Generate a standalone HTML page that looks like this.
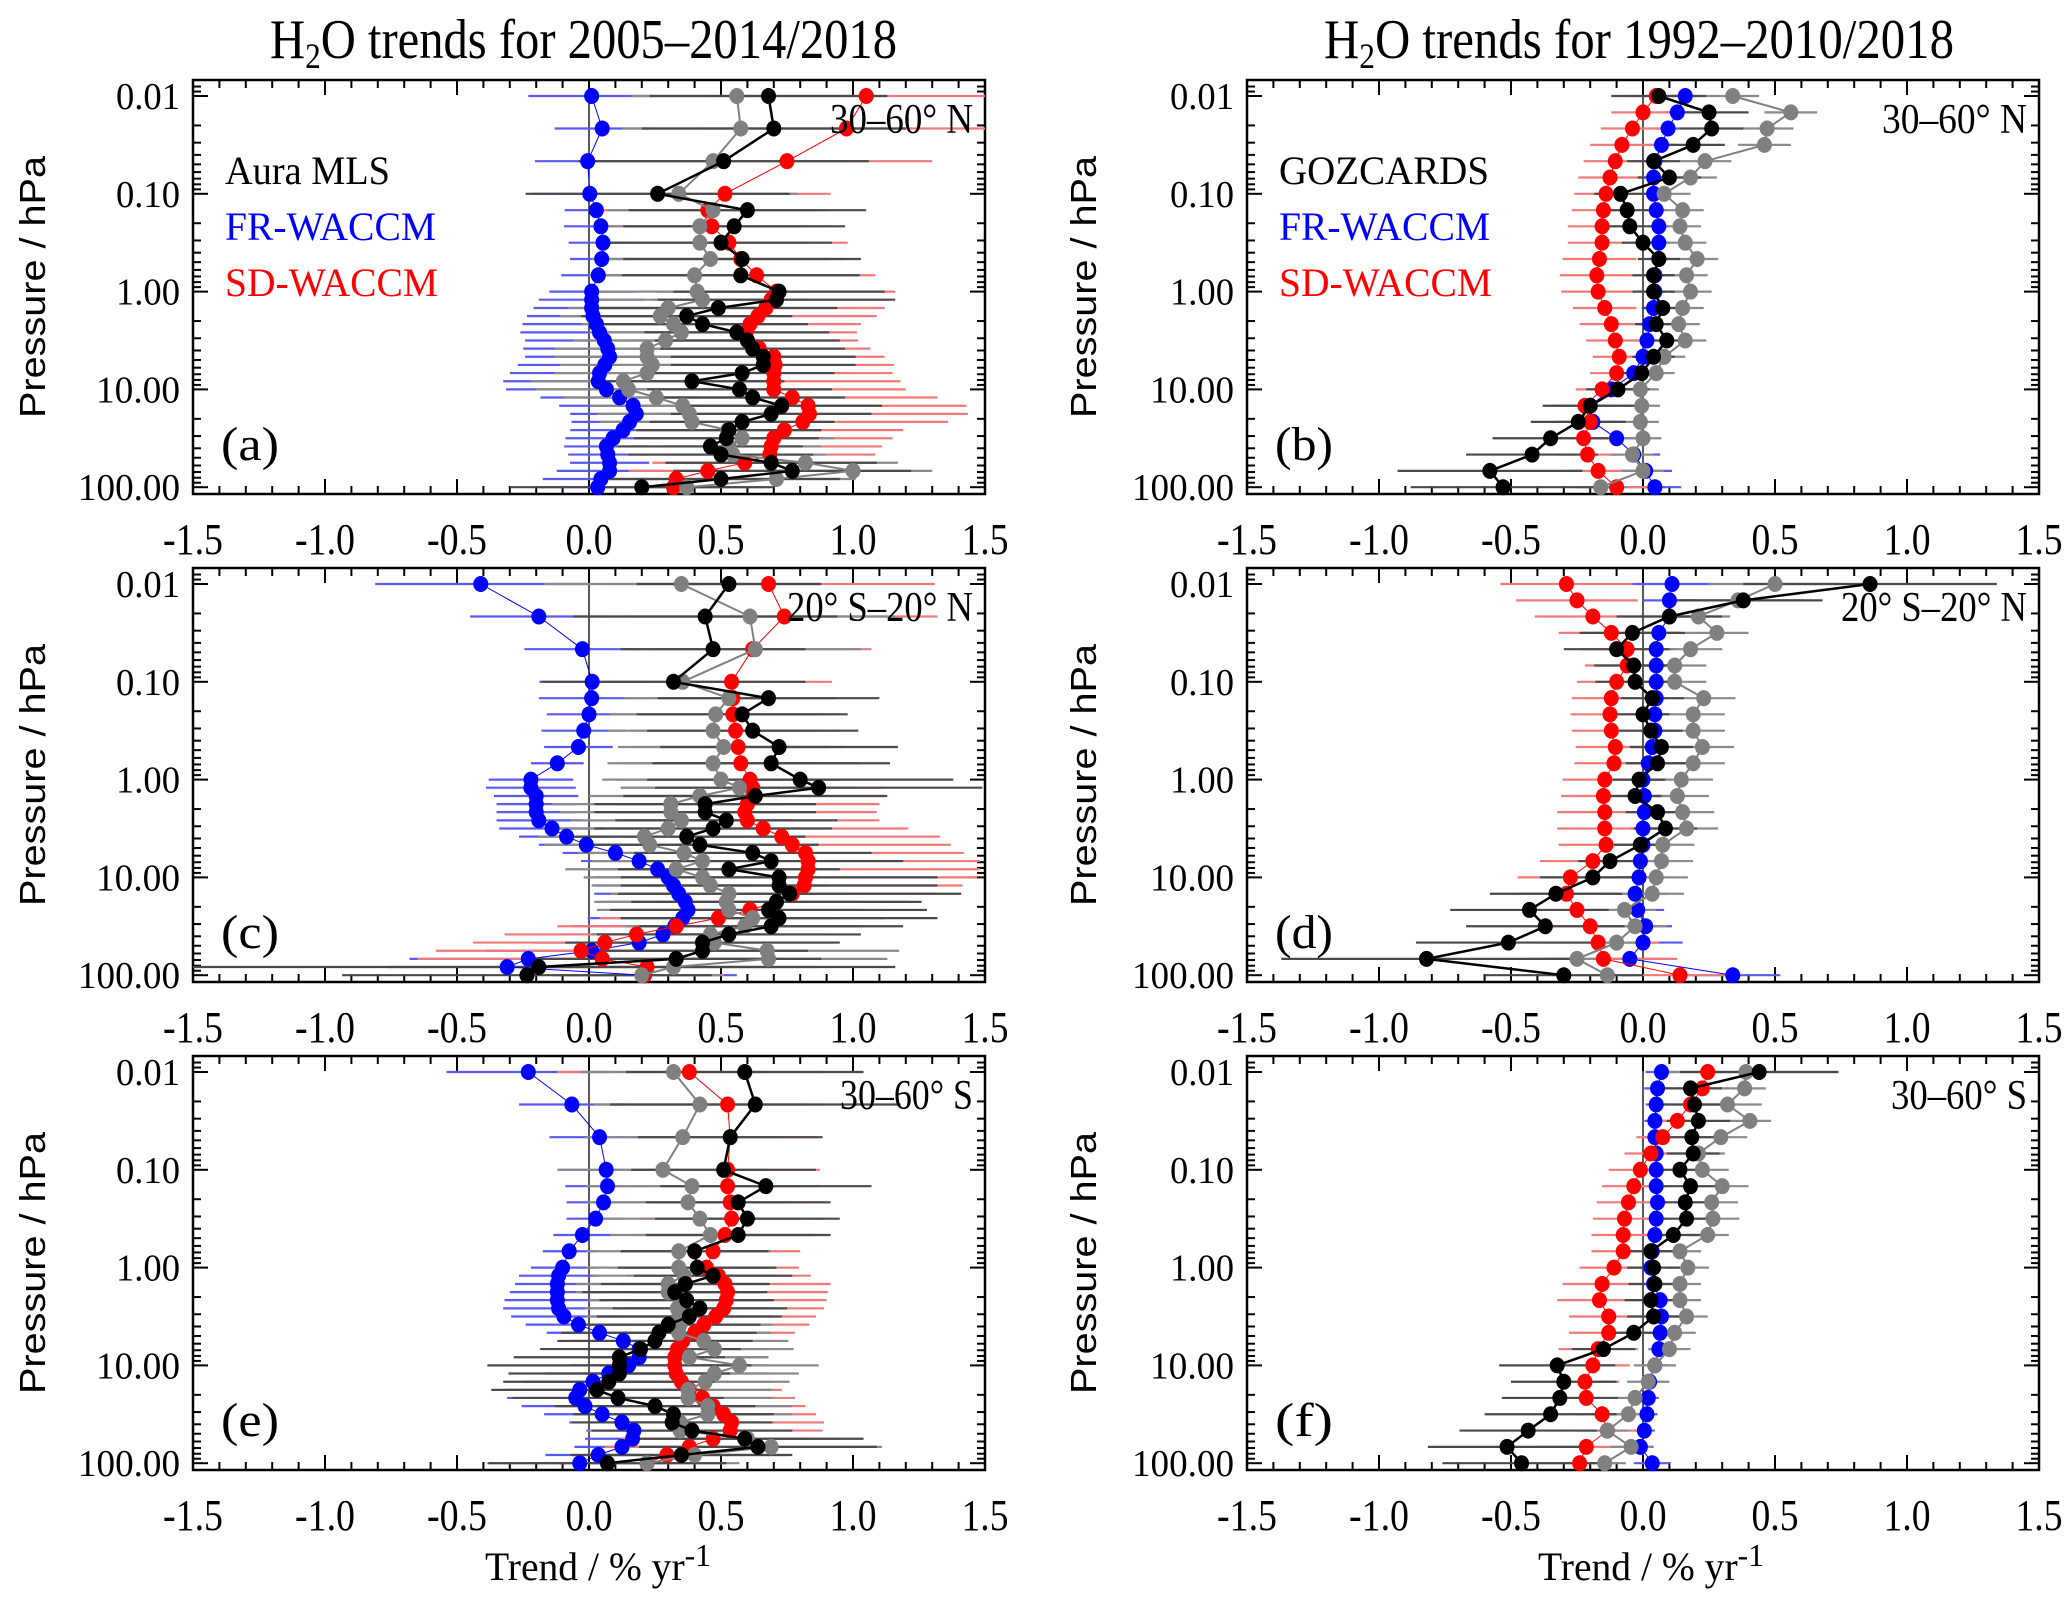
<!DOCTYPE html>
<html><head><meta charset="utf-8"><style>
html,body{margin:0;padding:0;background:#fff;}
svg{display:block;}
text{font-family:"Liberation Serif",serif;fill:#000;}
.sans{font-family:"Liberation Sans",sans-serif;}
</style></head><body>
<svg id="chart" xmlns="http://www.w3.org/2000/svg" width="2067" height="1602" viewBox="0 0 2067 1602">
<rect x="0" y="0" width="2067" height="1602" fill="#fff"/>
<text x="270" y="58" font-size="56" textLength="627" lengthAdjust="spacingAndGlyphs">H<tspan font-size="36" dy="10">2</tspan><tspan dy="-10">O trends for 2005–2014/2018</tspan></text>
<text x="1324" y="58" font-size="56" textLength="630" lengthAdjust="spacingAndGlyphs">H<tspan font-size="36" dy="10">2</tspan><tspan dy="-10">O trends for 1992–2010/2018</tspan></text>
<g id="panels"></g>
<text x="485" y="1580" font-size="40" textLength="226" lengthAdjust="spacingAndGlyphs">Trend / % yr<tspan font-size="32" dy="-14">-1</tspan></text>
<text x="1538" y="1580" font-size="40" textLength="226" lengthAdjust="spacingAndGlyphs">Trend / % yr<tspan font-size="32" dy="-14">-1</tspan></text>
</svg>
<script>
const mlsLevels=[0.01,0.0215,0.0464,0.1,0.147,0.215,0.316,0.464,0.681,1,1.21,1.47,1.78,2.15,2.61,3.16,3.83,4.64,5.62,6.81,8.25,10,12.1,14.7,17.8,21.5,26.1,31.6,38.3,46.4,56.2,68.1,82.5,100];
const gozLevels=[0.01,0.0147,0.0215,0.0316,0.0464,0.0681,0.1,0.147,0.215,0.316,0.464,0.681,1,1.47,2.15,3.16,4.64,6.81,10,14.7,21.5,31.6,46.4,68.1,100];
const xTicks=[-1.5,-1.0,-0.5,0.0,0.5,1.0,1.5];
const xTickLabels=["-1.5","-1.0","-0.5","0.0","0.5","1.0","1.5"];
const yTicks=[0.01,0.1,1,10,100];
const yTickLabels=["0.01","0.10","1.00","10.00","100.00"];

// Panel (a)
const aBlue=[0.01,0.05,-0.005,0.003,0.028,0.045,0.053,0.048,0.035,0.01,0.01,0.01,0.015,0.028,0.04,0.058,0.071,0.078,0.06,0.04,0.035,0.066,0.116,0.167,0.179,0.154,0.129,0.091,0.066,0.071,0.078,0.078,0.045,0.033];
const aRed=[1.05,0.975,0.75,0.515,0.45,0.465,0.53,0.575,0.635,0.71,0.69,0.67,0.64,0.61,0.595,0.60,0.645,0.70,0.705,0.70,0.70,0.70,0.77,0.83,0.835,0.81,0.74,0.70,0.69,0.685,0.59,0.45,0.33,0.32];
const aBlack=[0.68,0.70,0.51,0.26,0.60,0.55,0.50,0.58,0.575,0.72,0.71,0.49,0.37,0.43,0.56,0.60,0.62,0.66,0.66,0.58,0.39,0.57,0.62,0.73,0.69,0.58,0.53,0.52,0.46,0.50,0.69,0.77,0.50,0.20];
const aGray=[0.56,0.575,0.47,0.34,0.47,0.42,0.42,0.46,0.40,0.41,0.43,0.30,0.27,0.32,0.35,0.29,0.22,0.22,0.24,0.22,0.13,0.15,0.255,0.355,0.38,0.39,0.525,0.58,0.53,0.545,0.82,1.0,0.71,0.37];
const aBlueErr=[0.24,0.18,0.2,0.22,0.12,0.14,0.13,0.12,0.14,0.16,0.2,0.22,0.25,0.28,0.3,0.3,0.32,0.32,0.33,0.34,0.36,0.38,0.3,0.28,0.25,0.22,0.2,0.18,0.16,0.15,0.15,0.2,0.22,0.22];
const aBlackErr=[0.45,0.5,0.55,0.5,0.45,0.42,0.42,0.45,0.45,0.4,0.45,0.45,0.4,0.4,0.35,0.35,0.35,0.35,0.35,0.35,0.35,0.35,0.35,0.38,0.38,0.35,0.35,0.35,0.35,0.35,0.4,0.45,0.45,0.5];
const aRedErr=[0.6,0.55,0.55,0.4,0.45,0.45,0.45,0.4,0.45,0.45,0.45,0.45,0.45,0.42,0.42,0.42,0.42,0.42,0.45,0.45,0.48,0.5,0.55,0.6,0.6,0.55,0.45,0.45,0.42,0.4,0.35,0.3,0.3,0.3];
const aGrayErr=[0.4,0.45,0.5,0.45,0.4,0.4,0.4,0.45,0.4,0.4,0.4,0.38,0.38,0.35,0.35,0.35,0.35,0.35,0.35,0.35,0.35,0.35,0.35,0.35,0.35,0.35,0.35,0.35,0.35,0.35,0.35,0.3,0.3,0.3];

// Panel (c)
const cBlue=[-0.41,-0.19,-0.025,0.012,0.01,0,-0.02,-0.04,-0.12,-0.22,-0.22,-0.2,-0.2,-0.2,-0.19,-0.14,-0.085,-0.01,0.10,0.19,0.26,0.30,0.32,0.34,0.365,0.375,0.355,0.325,0.28,0.19,0.01,-0.23,-0.31,0.21];
const cRed=[0.68,0.74,0.62,0.54,0.545,0.545,0.555,0.565,0.575,0.61,0.62,0.62,0.60,0.59,0.60,0.66,0.73,0.77,0.82,0.83,0.83,0.82,0.815,0.77,0.71,0.61,0.49,0.33,0.18,0.06,-0.03,0.05,0.22,0.21];
const cBlack=[0.53,0.44,0.47,0.32,0.68,0.58,0.62,0.72,0.69,0.80,0.87,0.63,0.44,0.44,0.52,0.47,0.37,0.42,0.62,0.69,0.53,0.72,0.72,0.76,0.71,0.68,0.72,0.69,0.53,0.43,0.43,0.33,-0.19,-0.235];
const cGray=[0.35,0.61,0.63,0.355,0.53,0.48,0.47,0.51,0.47,0.50,0.57,0.42,0.31,0.31,0.35,0.30,0.21,0.23,0.36,0.43,0.33,0.43,0.46,0.53,0.52,0.53,0.62,0.59,0.46,0.475,0.675,0.68,0.32,0.20];
const cBlueErr=[0.4,0.26,0.22,0.2,0.2,0.16,0.16,0.13,0.1,0.16,0.17,0.16,0.15,0.15,0.16,0.2,0.18,0.18,0.2,0.22,0.25,0.28,0.3,0.32,0.32,0.34,0.36,0.38,0.38,0.4,0.4,0.45,0.45,0.35];
const cBlackErr=[0.35,0.5,0.35,0.5,0.42,0.4,0.4,0.45,0.45,0.58,0.62,0.5,0.42,0.42,0.42,0.45,0.45,0.45,0.45,0.5,0.42,0.6,0.6,0.65,0.55,0.6,0.6,0.5,0.5,0.52,0.4,0.55,1.35,0.7];
const cRedErr=[0.63,0.58,0.45,0.38,0.4,0.4,0.4,0.4,0.45,0.5,0.5,0.5,0.5,0.5,0.5,0.55,0.6,0.6,0.6,0.65,0.65,0.65,0.6,0.55,0.5,0.5,0.45,0.45,0.5,0.5,0.55,0.7,0.5,0.3];
const cGrayErr=[0.52,0.55,0.4,0.3,0.4,0.4,0.4,0.4,0.4,0.45,0.45,0.42,0.45,0.42,0.42,0.42,0.4,0.4,0.4,0.42,0.42,0.45,0.45,0.45,0.5,0.5,0.5,0.45,0.45,0.45,0.5,0.45,0.55,0.3];

// Panel (e)
const eBlue=[-0.23,-0.065,0.04,0.065,0.07,0.055,0.025,-0.025,-0.075,-0.10,-0.115,-0.12,-0.12,-0.12,-0.115,-0.095,-0.04,0.04,0.13,0.19,0.19,0.15,0.075,0.015,-0.035,-0.05,-0.015,0.05,0.125,0.17,0.165,0.125,0.035,-0.035];
const eRed=[0.38,0.525,0.535,0.525,0.525,0.535,0.54,0.515,0.47,0.445,0.49,0.515,0.525,0.52,0.51,0.48,0.435,0.40,0.355,0.335,0.325,0.325,0.33,0.35,0.38,0.43,0.47,0.51,0.54,0.535,0.47,0.38,0.295,0.22];
const eBlack=[0.59,0.63,0.535,0.51,0.67,0.565,0.60,0.565,0.40,0.41,0.47,0.365,0.325,0.37,0.42,0.38,0.30,0.265,0.25,0.195,0.115,0.115,0.115,0.075,0.03,0.11,0.25,0.32,0.315,0.39,0.59,0.64,0.35,0.07];
const eGray=[0.32,0.42,0.355,0.28,0.39,0.375,0.42,0.46,0.34,0.34,0.36,0.30,0.30,0.35,0.335,0.34,0.345,0.34,0.435,0.475,0.38,0.57,0.475,0.44,0.375,0.375,0.45,0.45,0.345,0.345,0.60,0.69,0.40,0.22];
const eBlueErr=[0.31,0.2,0.19,0.18,0.16,0.14,0.11,0.11,0.1,0.12,0.15,0.16,0.18,0.2,0.21,0.2,0.2,0.2,0.2,0.2,0.2,0.22,0.24,0.26,0.28,0.26,0.24,0.22,0.2,0.18,0.18,0.18,0.2,0.35];
const eBlackErr=[0.45,0.55,0.35,0.35,0.4,0.35,0.35,0.35,0.28,0.3,0.3,0.32,0.35,0.33,0.33,0.35,0.35,0.37,0.37,0.38,0.4,0.5,0.42,0.4,0.4,0.4,0.38,0.38,0.38,0.38,0.45,0.45,0.42,0.45];
const eRedErr=[0.5,0.37,0.33,0.35,0.35,0.35,0.35,0.35,0.33,0.35,0.35,0.4,0.38,0.38,0.38,0.38,0.4,0.38,0.38,0.35,0.35,0.35,0.35,0.35,0.35,0.35,0.35,0.35,0.35,0.35,0.35,0.32,0.3,0.3];
const eGrayErr=[0.35,0.4,0.37,0.4,0.4,0.38,0.38,0.38,0.35,0.35,0.35,0.35,0.35,0.35,0.35,0.35,0.35,0.35,0.32,0.3,0.3,0.3,0.32,0.32,0.32,0.32,0.32,0.32,0.32,0.35,0.35,0.42,0.35,0.35];

// Panel (b)
const bBlack=[0.06,0.25,0.26,0.19,0.04,0.10,-0.085,-0.06,-0.05,0,0.06,0.04,0.04,0.075,0.05,0.09,0.04,-0.005,-0.095,-0.2,-0.245,-0.35,-0.42,-0.58,-0.53];
const bBlue=[0.16,0.13,0.095,0.07,0.045,0.04,0.04,0.05,0.06,0.06,0.06,0.045,0.045,0.04,0.025,0.015,0,-0.035,-0.12,-0.2,-0.19,-0.10,-0.035,0.01,0.045];
const bRed=[0.05,0,-0.04,-0.08,-0.105,-0.125,-0.14,-0.15,-0.155,-0.155,-0.165,-0.175,-0.17,-0.145,-0.12,-0.105,-0.09,-0.10,-0.155,-0.22,-0.2,-0.225,-0.21,-0.17,-0.10];
const bGray=[0.34,0.56,0.47,0.46,0.235,0.18,0.08,0.15,0.14,0.16,0.205,0.165,0.18,0.15,0.135,0.16,0.08,0.05,-0.01,-0.005,-0.01,0,-0.04,0,-0.16];
const bBlackErr=[0.18,0.15,0.12,0.12,0.1,0.12,0.1,0.08,0.08,0.08,0.08,0.08,0.08,0.08,0.08,0.08,0.08,0.08,0.12,0.18,0.18,0.22,0.25,0.35,0.35];
const bBlueErr=[0.05,0.05,0.05,0.05,0.05,0.05,0.05,0.04,0.04,0.04,0.04,0.04,0.04,0.04,0.04,0.05,0.05,0.06,0.08,0.1,0.1,0.1,0.1,0.1,0.1];
const bRedErr=[0.1,0.12,0.12,0.12,0.12,0.12,0.12,0.12,0.13,0.13,0.14,0.14,0.14,0.12,0.12,0.11,0.1,0.1,0.1,0.13,0.13,0.12,0.12,0.12,0.12];
const bGrayErr=[0.1,0.1,0.1,0.1,0.1,0.1,0.1,0.08,0.08,0.08,0.08,0.08,0.08,0.08,0.08,0.08,0.08,0.07,0.07,0.07,0.07,0.07,0.08,0.08,0.1];

// Panel (d)
const dBlack=[0.86,0.38,0.10,-0.04,-0.10,-0.035,-0.03,0.035,0,0.03,0.07,0.055,-0.015,-0.03,0.055,0.085,-0.01,-0.125,-0.19,-0.33,-0.43,-0.37,-0.51,-0.82,-0.30];
const dBlue=[0.11,0.10,0.10,0.06,0.05,0.05,0.05,0.05,0.045,0.045,0.035,0.02,0,0.005,0.005,0,0,-0.01,-0.015,-0.03,-0.02,0.01,0,-0.05,0.34];
const dRed=[-0.29,-0.25,-0.19,-0.12,-0.06,-0.06,-0.10,-0.12,-0.125,-0.12,-0.105,-0.11,-0.145,-0.15,-0.145,-0.145,-0.14,-0.19,-0.275,-0.29,-0.25,-0.20,-0.17,-0.15,0.14];
const dGray=[0.50,0.36,0.21,0.28,0.18,0.12,0.12,0.23,0.19,0.19,0.225,0.19,0.145,0.13,0.15,0.165,0.075,0.07,0.05,0.035,-0.07,-0.03,-0.10,-0.25,-0.135];
const dBlackErr=[0.48,0.3,0.2,0.2,0.2,0.15,0.15,0.12,0.1,0.12,0.12,0.12,0.1,0.1,0.12,0.12,0.1,0.12,0.2,0.25,0.3,0.3,0.35,0.55,0.3];
const dBlueErr=[0.15,0.1,0.08,0.08,0.06,0.06,0.05,0.05,0.05,0.05,0.05,0.05,0.08,0.08,0.05,0.05,0.06,0.08,0.1,0.12,0.1,0.1,0.15,0.15,0.18];
const dRedErr=[0.25,0.23,0.22,0.2,0.18,0.16,0.15,0.15,0.15,0.15,0.15,0.15,0.16,0.16,0.18,0.18,0.18,0.2,0.2,0.2,0.2,0.2,0.23,0.28,0.22];
const dGrayErr=[0.25,0.25,0.12,0.12,0.12,0.12,0.12,0.12,0.12,0.12,0.12,0.12,0.12,0.12,0.12,0.12,0.12,0.12,0.12,0.12,0.12,0.12,0.12,0.12,0.12];

// Panel (f)
const fBlack=[0.44,0.18,0.195,0.21,0.185,0.19,0.14,0.18,0.16,0.165,0.115,0.03,0.04,0.045,0.03,0.04,-0.035,-0.15,-0.325,-0.30,-0.315,-0.35,-0.435,-0.515,-0.46];
const fBlue=[0.07,0.055,0.05,0.045,0.045,0.05,0.05,0.05,0.055,0.05,0.045,0.035,0.03,0.04,0.065,0.07,0.065,0.06,0.045,0.025,0.02,0.015,0.005,-0.01,0.035];
const fRed=[0.245,0.225,0.18,0.13,0.075,0.03,-0.01,-0.035,-0.055,-0.07,-0.075,-0.075,-0.11,-0.155,-0.165,-0.13,-0.13,-0.17,-0.19,-0.22,-0.215,-0.155,-0.135,-0.215,-0.24];
const fGray=[0.39,0.385,0.32,0.405,0.295,0.21,0.225,0.30,0.26,0.265,0.245,0.14,0.17,0.14,0.14,0.165,0.12,0.10,0.045,0.02,-0.03,-0.055,-0.135,-0.045,-0.145];
const fBlackErr=[0.3,0.12,0.12,0.12,0.12,0.1,0.1,0.1,0.1,0.1,0.1,0.1,0.1,0.1,0.1,0.1,0.1,0.12,0.22,0.2,0.22,0.25,0.26,0.3,0.3];
const fBlueErr=[0.06,0.05,0.04,0.04,0.04,0.04,0.04,0.04,0.04,0.04,0.04,0.04,0.04,0.04,0.04,0.04,0.04,0.04,0.05,0.04,0.04,0.04,0.04,0.05,0.07];
const fRedErr=[0.1,0.1,0.1,0.1,0.1,0.1,0.12,0.12,0.12,0.12,0.12,0.12,0.13,0.15,0.16,0.15,0.15,0.15,0.14,0.13,0.13,0.1,0.12,0.18,0.15];
const fGrayErr=[0.35,0.08,0.13,0.08,0.1,0.1,0.1,0.1,0.1,0.1,0.08,0.08,0.08,0.08,0.08,0.08,0.08,0.08,0.08,0.08,0.08,0.08,0.08,0.08,0.08];

const panels=[
 {id:"a",col:0,row:0,levels:mlsLevels,region:"30–60° N",rw:143,legend:"Aura MLS",
  series:[["blue",aBlue,aBlueErr],["red",aRed,aRedErr],["gray",aGray,aGrayErr],["black",aBlack,aBlackErr]]},
 {id:"b",col:1,row:0,levels:gozLevels,region:"30–60° N",rw:145,legend:"GOZCARDS",
  series:[["blue",bBlue,bBlueErr],["red",bRed,bRedErr],["gray",bGray,bGrayErr],["black",bBlack,bBlackErr]]},
 {id:"c",col:0,row:1,levels:mlsLevels,region:"20° S–20° N",rw:186,
  series:[["blue",cBlue,cBlueErr],["red",cRed,cRedErr],["gray",cGray,cGrayErr],["black",cBlack,cBlackErr]]},
 {id:"d",col:1,row:1,levels:gozLevels,region:"20° S–20° N",rw:186,
  series:[["blue",dBlue,dBlueErr],["red",dRed,dRedErr],["gray",dGray,dGrayErr],["black",dBlack,dBlackErr]]},
 {id:"e",col:0,row:2,levels:mlsLevels,region:"30–60° S",rw:133,
  series:[["blue",eBlue,eBlueErr],["red",eRed,eRedErr],["gray",eGray,eGrayErr],["black",eBlack,eBlackErr]]},
 {id:"f",col:1,row:2,levels:gozLevels,region:"30–60° S",rw:136,
  series:[["blue",fBlue,fBlueErr],["red",fRed,fRedErr],["gray",fGray,fGrayErr],["black",fBlack,fBlackErr]]}
];
const style={
 blue:{pt:"#0000ff",bar:"#5a5aee",lw:1},
 red:{pt:"#ff0000",bar:"#f07a7a",lw:1},
 gray:{pt:"#808080",bar:"#8a8a8a",lw:2},
 black:{pt:"#000000",bar:"#4a4a4a",lw:2.5}
};
const NS="http://www.w3.org/2000/svg";
const root=document.getElementById("panels");
function mk(tag,attrs,parent){const e=document.createElementNS(NS,tag);for(const k in attrs)e.setAttribute(k,attrs[k]);parent.appendChild(e);return e;}

panels.forEach(p=>{
 const L=p.col===0?193:1247, W=792, T=80+p.row*488, H=414;
 const xOf=v=>L+(v+1.5)*W/3;
 const yOf=pr=>T+16+(Math.log10(pr)+2)*97.8;
 const g=mk("g",{},root);
 
 
 const fr=mk("rect",{x:L,y:T,width:W,height:H,fill:"none",stroke:"#000","stroke-width":2.5},g);
 
 
 for(let i=0;i<=30;i++){
  const x=L+i*W/30, major=(i%5===0), len=major?15:8;
  const t1=mk("line",{x1:x,x2:x,y1:T+H,y2:T+H-len,stroke:"#000","stroke-width":2},g);
  
  
  const t2=mk("line",{x1:x,x2:x,y1:T,y2:T+len,stroke:"#000","stroke-width":2},g);
  
  
 }
 xTicks.forEach((v,i)=>{
  const lab=xTickLabels[i];
  const t=mk("text",{x:xOf(v),y:T+474,"text-anchor":"middle","font-size":44,textLength:lab.length>3?60:47,lengthAdjust:"spacingAndGlyphs"},g);
  t.textContent=lab;
  
  
 });
 for(let d=-3;d<=2;d++){
  for(let k=1;k<=9;k++){
   const pr=k*Math.pow(10,d);
   const y=yOf(pr);
   if(y<T+1||y>T+H-1)continue;
   const len=k===1?15:8;
   const a=mk("line",{x1:L,x2:L+len,y1:y,y2:y,stroke:"#000","stroke-width":2},g);
   
   
   const b=mk("line",{x1:L+W,x2:L+W-len,y1:y,y2:y,stroke:"#000","stroke-width":2},g);
   
   
  }
 }
 yTicks.forEach((pr,i)=>{
  const lab=yTickLabels[i];
  const tl=lab.length===4?64:(lab.length===5?84:102);
  const t=mk("text",{x:L-13-tl,y:yOf(pr)+13,"font-size":38,textLength:tl,lengthAdjust:"spacingAndGlyphs"},g);
  t.textContent=lab;
  
  
 });
 const cx=p.col===0?45:1096, cy=T+207;
 const yt=mk("text",{x:cx,y:cy,"text-anchor":"middle","font-size":36,class:"sans",textLength:262,lengthAdjust:"spacingAndGlyphs",transform:`rotate(-90 ${cx} ${cy})`},g);
 yt.textContent="Pressure / hPa";
 
 
 const zl=mk("line",{x1:xOf(0),x2:xOf(0),y1:T,y2:T+H,stroke:"#000","stroke-width":1.3},g);
 
 
 p.series.forEach(([name,vals,errs])=>{
  const st=style[name];
  vals.forEach((v,i)=>{
   const y=yOf(p.levels[i]);
   const x1=Math.max(L,xOf(v-errs[i])), x2=Math.min(L+W,xOf(v+errs[i]));
   const e=mk("line",{x1:x1,x2:x2,y1:y,y2:y,stroke:st.bar,"stroke-width":2.2},g);
   
   
  });
 });
 p.series.forEach(([name,vals])=>{
  const st=style[name];
  const pts=vals.map((v,i)=>xOf(v).toFixed(1)+","+yOf(p.levels[i]).toFixed(1)).join(" ");
  const pl=mk("polyline",{points:pts,fill:"none",stroke:st.pt,"stroke-width":st.lw},g);
  
  
  vals.forEach((v,i)=>{
   const c=mk("ellipse",{cx:xOf(v),cy:yOf(p.levels[i]),rx:7.5,ry:8,fill:st.pt},g);
   
   
  });
 });
 const rl=mk("text",{x:L+W-12-p.rw,y:T+53,"font-size":42,textLength:p.rw,lengthAdjust:"spacingAndGlyphs"},g);
 rl.textContent=p.region;
 
 
 const pl2=mk("text",{x:L+28,y:T+380,"font-size":48,textLength:58,lengthAdjust:"spacingAndGlyphs"},g);
 pl2.textContent="("+p.id+")";
 
 
 if(p.legend){
  const lx=L+32;
  const l1=mk("text",{x:lx,y:T+104,"font-size":40,textLength:p.legend==="GOZCARDS"?210:165,lengthAdjust:"spacingAndGlyphs"},g);
  l1.textContent=p.legend;
  
  
  const l2=mk("text",{x:lx,y:T+160,"font-size":40,style:"fill:#0000ff",textLength:211,lengthAdjust:"spacingAndGlyphs"},g);
  l2.textContent="FR-WACCM";
  
  
  const l3=mk("text",{x:lx,y:T+216,"font-size":40,style:"fill:#ff0000",textLength:213,lengthAdjust:"spacingAndGlyphs"},g);
  l3.textContent="SD-WACCM";
  
  
 }
});
</script>
</body></html>
